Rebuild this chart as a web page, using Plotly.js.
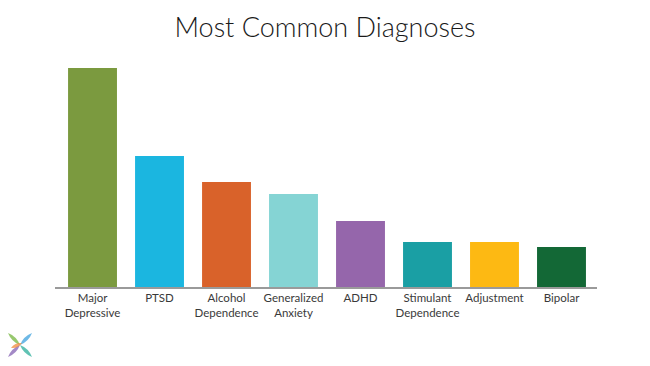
<!DOCTYPE html>
<html>
<head>
<meta charset="utf-8">
<script src="https://cdn.plot.ly/plotly-3.0.1.min.js"></script>
<style>html,body{margin:0;padding:0;background:#fff;}#chart{width:650px;height:366px;}</style>
</head>
<body>
<div id="chart"></div>
<script>
const categories = ["Major<br>Depressive", "PTSD", "Alcohol<br>Dependence", "Generalized<br>Anxiety", "ADHD", "Stimulant<br>Dependence", "Adjustment", "Bipolar"];
const values = [219, 131, 105, 93, 66, 45, 45, 40];
const colors = ["#7B9A3F", "#1BB6E0", "#D9622A", "#85D4D4", "#9566AB", "#1A9FA4", "#FDB913", "#136836"];

// plot area in pixels: left 55, right 597, top 57, bottom 287
const L = 55, R = 597, T = 57, B = 287;
function px(x) { return ((x - L) / (R - L)).toFixed(4); }
function py(y) { return ((B - y) / (B - T)).toFixed(4); }
function petal(cx, cy, tx, ty, bulge) {
  const mx = (cx + tx) / 2, my = (cy + ty) / 2;
  const dx = tx - cx, dy = ty - cy;
  const nx = -dy * bulge, ny = dx * bulge;
  return `M${px(cx)},${py(cy)} Q${px(mx + nx)},${py(my + ny)} ${px(tx)},${py(ty)} Q${px(mx - nx)},${py(my - ny)} ${px(cx)},${py(cy)} Z`;
}
const lc = [20, 345];
const logoShapes = [
  {c: "#7DBA4A", t: [8, 333]},
  {c: "#4AA8E0", t: [32, 333]},
  {c: "#8C6BB8", t: [8, 357]},
  {c: "#38B3A0", t: [32, 357]}
].map(p => ({
  type: "path", xref: "paper", yref: "paper",
  path: petal(lc[0], lc[1], p.t[0], p.t[1], 0.22),
  fillcolor: p.c, opacity: 0.8, line: {width: 0}
}));
logoShapes.push({
  type: "path", xref: "paper", yref: "paper",
  path: petal(11, 348, 22, 343, 0.3),
  fillcolor: "#F08A3C", opacity: 0.75, line: {width: 0}
});

const trace = {
  type: "bar",
  x: categories,
  y: values,
  marker: {color: colors, line: {width: 0}},
  width: 0.73,
  hoverinfo: "skip"
};

const layout = {
  width: 650, height: 366,
  margin: {l: L, r: 650 - R, t: T, b: 366 - B, pad: 0},
  paper_bgcolor: "#fff", plot_bgcolor: "#fff",
  title: {
    text: "Most Common Diagnoses",
    x: 0.5, xanchor: "center", y: 0.925, yanchor: "middle",
    font: {family: "Lato, 'Open Sans', sans-serif", size: 27, color: "#1a1a1a", weight: 300}
  },
  font: {family: "Lato, 'Open Sans', sans-serif"},
  showlegend: false,
  xaxis: {
    range: [-0.56, 7.53],
    showline: true, linecolor: "#9a9a9a", linewidth: 1.5,
    showgrid: false, zeroline: false, ticks: "",
    tickfont: {family: "Lato, 'Open Sans', sans-serif", size: 11.5, color: "#3a3a3a"},
    fixedrange: true
  },
  yaxis: {
    range: [0, 230],
    visible: false, showgrid: false, zeroline: false,
    fixedrange: true
  },
  shapes: logoShapes,
  bargap: 0.27
};

Plotly.newPlot("chart", [trace], layout, {displayModeBar: false, staticPlot: true});
</script>
</body>
</html>
